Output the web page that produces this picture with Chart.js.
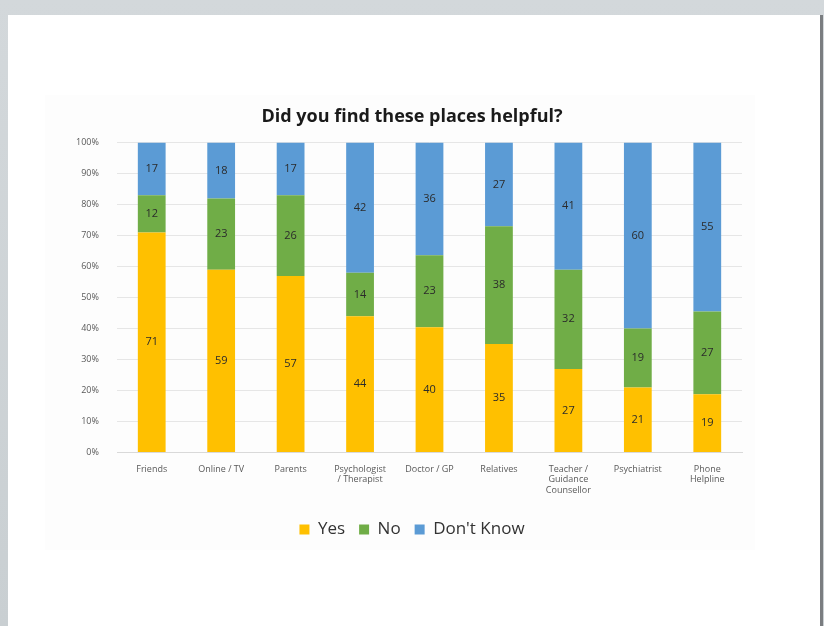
<!DOCTYPE html>
<html>
<head>
<meta charset="utf-8">
<script src="https://cdn.jsdelivr.net/npm/chart.js@4.4.1/dist/chart.umd.min.js"></script>
<style>
  html, body { margin: 0; padding: 0; }
  body {
    width: 824px; height: 626px; overflow: hidden;
    background: linear-gradient(#d3d8db, #c9cfd2);
    position: relative;
  }
  .page {
    position: absolute; left: 8px; top: 15px; width: 812px; height: 611px;
    background: #fff;
    box-shadow: 3px 0 0 #7a7d80;
  }
  .chart-box {
    position: absolute; left: 37px; top: 80px; width: 710px; height: 455px;
    background: #fdfdfd;
  }
  #helpChart { position: absolute; left: 37px; top: 80px; }
</style>
</head>
<body>
<div class="page">
  <div class="chart-box"></div>
  <canvas id="helpChart" width="734" height="455"></canvas>
</div>
<script>
// survey answers per source of help (raw percentages as labelled)
const places = ["Friends", "Online / TV", "Parents", ["Psychologist", "/ Therapist"], "Doctor / GP",
  "Relatives", ["Teacher /", "Guidance", "Counsellor"], "Psychiatrist", ["Phone", "Helpline"]];
const yesVals = [71, 59, 57, 44, 40, 35, 27, 21, 19];
const noVals = [12, 23, 26, 14, 23, 38, 32, 19, 27];
const dkVals = [17, 18, 17, 42, 36, 27, 41, 60, 55];
const yTicks = [0, 10, 20, 30, 40, 50, 60, 70, 80, 90, 100];

// stacked to 100% like the spreadsheet chart
const totals = yesVals.map((v, i) => v + noVals[i] + dkVals[i]);
const share = arr => arr.map((v, i) => v / totals[i] * 100);

const series = [
  { label: "Yes", raw: yesVals, color: "#ffc000" },
  { label: "No", raw: noVals, color: "#70ad47" },
  { label: "Don't Know", raw: dkVals, color: "#5b9bd5" },
];

// numbers written in the middle of each segment
const segmentLabels = {
  id: "segmentLabels",
  afterDatasetsDraw(chart) {
    const ctx = chart.ctx;
    ctx.save();
    ctx.font = "11px 'Open Sans', sans-serif";
    ctx.fillStyle = "#2b2b2b";
    ctx.textAlign = "center";
    ctx.textBaseline = "middle";
    chart.data.datasets.forEach((ds, di) => {
      chart.getDatasetMeta(di).data.forEach((bar, i) => {
        ctx.fillText(ds.raw[i], bar.x, (bar.y + bar.base) / 2);
      });
    });
    ctx.restore();
  }
};

new Chart(document.getElementById("helpChart"), {
  type: "bar",
  data: {
    labels: places,
    datasets: series.map(s => ({
      label: s.label,
      raw: s.raw,
      data: share(s.raw),
      backgroundColor: s.color,
      borderWidth: 0,
      barPercentage: 0.8,
      categoryPercentage: 0.5,
    })),
  },
  options: {
    responsive: false,
    animation: false,
    // equal side padding keeps title and legend centred
    layout: { padding: { left: 37, right: 37, top: 0, bottom: 2 } },
    plugins: {
      title: {
        display: true,
        text: "Did you find these places helpful?",
        color: "#1a1a1a",
        font: { family: "'Open Sans', sans-serif", size: 18, weight: "bold" },
        padding: { top: 11, bottom: 15 },
      },
      legend: {
        position: "bottom",
        labels: {
          color: "#333",
          font: { family: "'Open Sans', sans-serif", size: 17 },
          boxWidth: 10, boxHeight: 10,
          padding: 14,
        },
      },
      tooltip: { enabled: false },
    },
    scales: {
      x: {
        stacked: true,
        grid: { display: false },
        border: { color: "#d9d9d9" },
        afterFit: s => { s.height += 8; },
        ticks: {
          color: "#595959",
          font: { family: "'Open Sans', sans-serif", size: 9 },
          maxRotation: 0, autoSkip: false,
        },
      },
      y: {
        stacked: true,
        min: 0, max: 100,
        afterFit: s => { s.width = 35; },
        afterBuildTicks: s => { s.ticks = yTicks.map(v => ({ value: v })); },
        grid: { color: "#e6e6e6", drawTicks: false },
        border: { display: false },
        // mirrored + negative padding so the labels sit left of the narrow axis box unclipped
        ticks: {
          mirror: true,
          crossAlign: "far",
          padding: -41,
          color: "#595959",
          font: { family: "'Open Sans', sans-serif", size: 9 },
          callback: v => v + "%",
        },
      },
    },
  },
  plugins: [segmentLabels],
});
</script>
</body>
</html>
